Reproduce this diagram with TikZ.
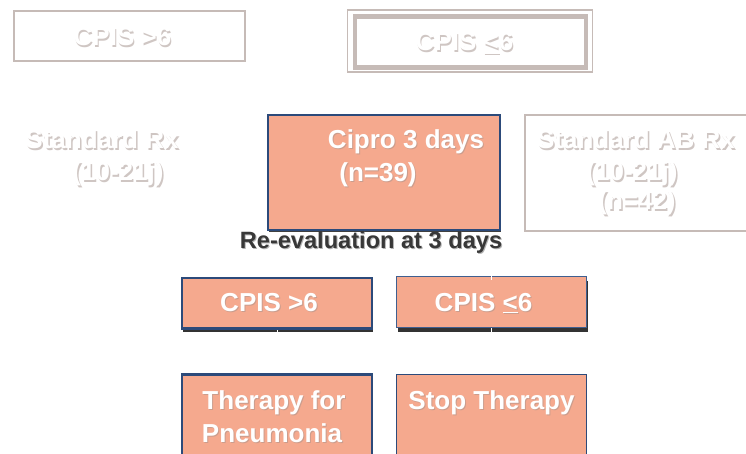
\documentclass[tikz,border=0pt]{standalone}
\usepackage{fontspec}
\setmainfont{Liberation Sans}
\usetikzlibrary{shadows}
\definecolor{fadegray}{HTML}{C6BBB7}
\definecolor{ghostsh}{HTML}{CFC6C3}
\definecolor{salmon}{HTML}{F5A98E}
\definecolor{navy}{HTML}{2C4A7A}
\definecolor{midblue}{HTML}{3F5F90}
\definecolor{darktxt}{HTML}{383838}
\tikzset{
  bigfont/.style={font=\bfseries\fontsize{26}{31}\selectfont},
  fadebox/.style={draw=fadegray, line width=2pt, inner sep=0pt, anchor=north west},
  salmonbox/.style={fill=salmon, draw=navy, line width=2pt, inner sep=0pt, anchor=north west},
  thinsalmon/.style={salmonbox, draw=midblue, line width=1.2pt},
  boxshadow/.style={drop shadow={shadow xshift=1pt, shadow yshift=-4pt, fill=black!80, opacity=1}},
  ghost/.style={bigfont, text=white, anchor=base, inner sep=0pt},
  ghostshadow/.style={bigfont, text=ghostsh, anchor=base, inner sep=0pt},
  wtext/.style={bigfont, text=white, anchor=base, inner sep=0pt},
  wshadow/.style={bigfont, text=black!45, opacity=0.4, anchor=base, inner sep=0pt},
  link/.style={draw=white, line width=1pt},
  reevalfont/.style={font=\bfseries\fontsize{23.6}{28}\selectfont, anchor=base, inner sep=0pt},
}
\begin{document}
\begin{tikzpicture}[x=1pt,y=-1pt]
\useasboundingbox[fill=white] (0,0) rectangle (746,454);

% ---- faded top row ----
\node[fadebox, minimum width=231, minimum height=50] (topa) at (13,10) {};
\node[fadebox, line width=1.2pt, minimum width=245, minimum height=62] (topbo) at (346.5,9.5) {};
\node[fadebox, line width=4.5pt, minimum width=231, minimum height=51] (topb) at (352.5,14.5) {};
\node[ghostshadow] at (123.5,47.5) {CPIS >6};
\node[ghost] (topatxt) at (122.5,46) {CPIS >6};
\node[ghostshadow] at (465.5,52.5) {CPIS \underline{<}6};
\node[ghost] (topbtxt) at (464.5,51) {CPIS \underline{<}6};

% ---- left faded text ----
\node[ghostshadow] at (103.5,150.5) {Standard Rx};
\node[ghost] (stdrx) at (102,149) {Standard Rx};
\node[ghostshadow] at (119.5,182.5) {(10-21j)};
\node[ghost] (stdrxd) at (118,181) {(10-21j)};

% ---- Cipro box ----
\node[salmonbox, minimum width=232, minimum height=115,
      drop shadow={shadow xshift=1pt, shadow yshift=-2pt, fill=black!75, opacity=1}] (cipro) at (267,114) {};
\node[wshadow] at (407,150) {Cipro 3 days};
\node[wtext] (ciprot) at (406,149) {Cipro 3 days};
\node[wshadow] at (379,183) {(n=39)};
\node[wtext] (cipron) at (378,182) {(n=39)};

% ---- Standard AB box (faded) ----
\node[fadebox, minimum width=240, minimum height=116] (stdab) at (524,114.5) {};
\node[ghostshadow] at (637.5,150.5) {Standard AB Rx};
\node[ghost] (stdabt) at (636,149) {Standard AB Rx};
\node[ghostshadow] at (633.5,182.5) {(10-21j)};
\node[ghost] (stdabd) at (632,181) {(10-21j)};
\node[ghostshadow] at (638.5,211.5) {(n=42)};
\node[ghost] (stdabn) at (637,210) {(n=42)};

% ---- Re-evaluation ----
\node[reevalfont, text=black!30] at (372,249) {Re-evaluation at 3 days};
\node[reevalfont, text=darktxt] (reeval) at (371,248) {Re-evaluation at 3 days};

% ---- CPIS boxes ----
\node[salmonbox, boxshadow, minimum width=190, minimum height=50] (cpishi) at (181,277) {};
\node[thinsalmon, boxshadow, minimum width=190, minimum height=51] (cpislo) at (396,276) {};

% ---- Therapy boxes ----
\node[salmonbox, minimum width=190, minimum height=100] (therapy) at (181,374) {};
\node[thinsalmon, draw=navy, minimum width=190, minimum height=100] (stop) at (396,374) {};

% white connector remnants
\draw[link] (cpishi.south) -- (therapy.north);
\draw[link] (cpislo.south) -- (stop.north);
\draw[link] (cpislo.north) -- ++(0,4);
\draw[salmonbox] (cpishi.south west) -- (cpishi.south east);
\draw[draw=navy, line width=2pt] (therapy.north west) -- (therapy.north east);

% ---- box texts ----
\node[wshadow] at (270,312) {CPIS >6};
\node[wtext] (cpishit) at (269,311) {CPIS >6};
\node[wshadow] at (484.5,312) {CPIS \underline{<}6};
\node[wtext] (cpislot) at (483.5,311) {CPIS \underline{<}6};
\node[wshadow] at (275,410) {Therapy for};
\node[wtext] (therapyt) at (274,409) {Therapy for};
\node[wshadow] at (273,443) {Pneumonia};
\node[wtext] (therapyp) at (272,442) {Pneumonia};
\node[wshadow] at (492.5,410) {Stop Therapy};
\node[wtext] (stopt) at (491.5,409) {Stop Therapy};
\end{tikzpicture}
\end{document}
